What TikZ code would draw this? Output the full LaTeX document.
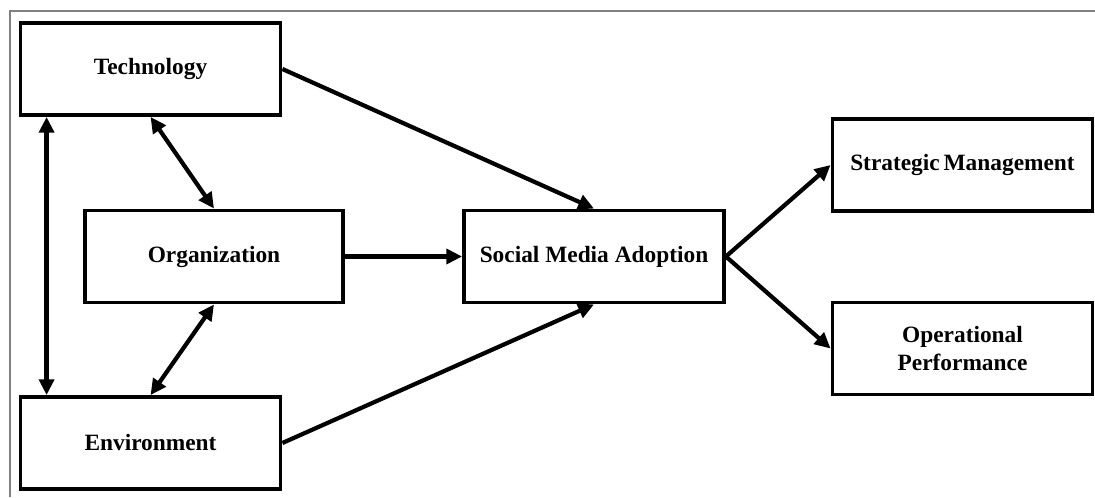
\documentclass[tikz,border=0pt]{standalone}
\usepackage{fontspec}
\setmainfont{Liberation Serif}
\usetikzlibrary{arrows.meta}

\begin{document}
\begin{tikzpicture}[x=0.02cm, y=-0.02cm,
    every node/.style={font=\bfseries\fontsize{13.3}{16}\selectfont},
    factor/.style={draw, line width=2.2pt, minimum width=5.2cm, minimum height=1.84cm, align=center, inner sep=0pt},
    link/.style={line width=2.4pt, -{Triangle[length=9pt,width=8.5pt]}},
    both/.style={line width=2.4pt, {Triangle[length=9pt,width=8.5pt]}-{Triangle[length=9pt,width=8.5pt]}}]
    \useasboundingbox (0,0) rectangle (1095,497);
    \draw[gray, line width=0.6pt] (10,497) -- (10,11) -- (1095,11);

    % TOE factors
    \node[factor] (tech) at (150.5,69) {Technology};
    \node[factor, minimum width=5.16cm] (org) at (214,256.5) {Organization};
    \node[factor] (env) at (150.5,443) {Environment};

    % adoption and outcomes
    \node[factor] (sma) at (594,256.5) {Social Media Adoption};
    \node[factor] (sm) at (962.5,165) {Strategic\,Management};
    \node[factor] (op) at (962.5,348.5) {Operational\\Performance};

    \draw[both] ([xshift=0.56cm]tech.south west) -- ([xshift=0.56cm]env.north west);
    \draw[both] ([xshift=2.64cm]tech.south west) -- (org.north);
    \draw[both] (org.south) -- ([xshift=2.64cm]env.north west);

    \draw[link] (tech.east) -- (sma.north);
    \draw[link] (org.east) -- (sma.west);
    \draw[link] (env.east) -- (sma.south);

    \draw[link] (sma.east) -- (sm.west);
    \draw[link] (sma.east) -- (op.west);
\end{tikzpicture}
\end{document}
